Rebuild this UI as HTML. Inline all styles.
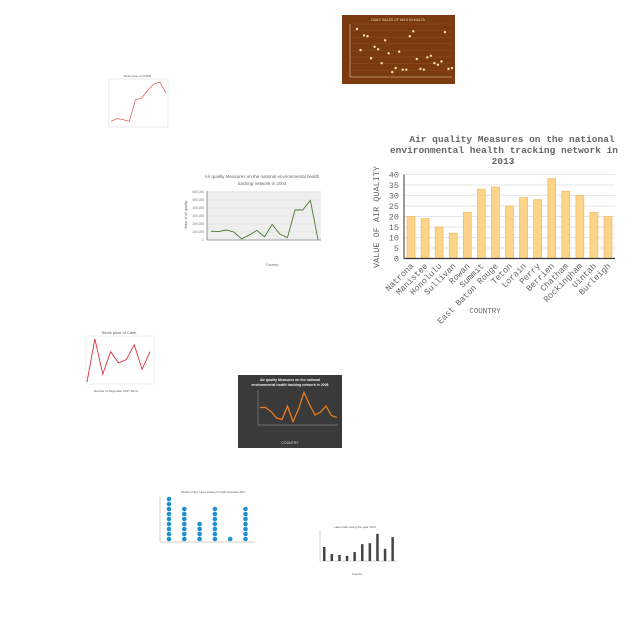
<!DOCTYPE html>
<html><head><meta charset="utf-8"><style>
html,body{margin:0;padding:0;background:#fff;}
svg{display:block;font-family:"Liberation Sans",sans-serif;}
.mono{font-family:"Liberation Mono",monospace;fill:#666;}
</style></head><body>
<svg id="s" width="640" height="640" viewBox="0 0 640 640">
<rect width="640" height="640" fill="#fff"/>
<g id="main">
<text class="mono" x="512" y="142" font-size="9.5" font-weight="bold" text-anchor="middle">Air quality Measures on the national</text>
<text class="mono" x="504" y="153" font-size="9.5" font-weight="bold" text-anchor="middle">environmental health tracking network in</text>
<text class="mono" x="503" y="164" font-size="9.5" font-weight="bold" text-anchor="middle">2013</text>
<text class="mono" transform="translate(379,217) rotate(-90)" font-size="8.5" text-anchor="middle">VALUE OF  AIR QUALITY</text>
<text class="mono" x="485" y="313" font-size="7.5" text-anchor="middle">COUNTRY</text>
</g>
<g id="others"></g>
</svg>
<script>
const NS="http://www.w3.org/2000/svg";
function mk(p,t,a){const e=document.createElementNS(NS,t);for(const k in a)e.setAttribute(k,a[k]);p.appendChild(e);return e;}
// main chart data
const mainCategories=["Natrona","Manistee","Honolulu","Sullivan","Rowan","Summit","East Baton Rouge","Teton","Lorain","Perry","Berrien","Chatham","Rockingham","Uintah","Burleigh"];
const mainValues=[20,19,15,12,22,33,34,25,29,28,38,32,30,22,20];
const mainTicks=[0,5,10,15,20,25,30,35,40];
// scatter
const scatterValues=[11.8,6.6,10.2,10,4.6,7.4,6.8,3.4,9,5.8,1.2,2.2,6.2,1.8,1.8,10,11.2,4.4,2,1.8,4.8,5.2,3.4,3,3.8,11,2,2.2];
// stock top-left
const stockAValues=[1,2,1.6,1,9,9.6,12.5,14.8,15.6,11.4];
// line 2004
const line2004Values=[110000,105000,125000,100000,15000,60000,120000,40000,195000,75000,30000,375000,375000,495000,5000];
const line2004Ticks=[0,100000,200000,300000,400000,500000,600000];
// Cdek stock
const cdekValues=[0,8.8,1.6,6.2,3.9,4.6,7.6,2.6,6.2];
// dark chart
const darkValues=[5.5,5.5,4.2,2,1.5,6,0.8,5,10.5,6.5,3,4,6,2.8,2.2];
// dot chart
const dotCounts=[9,7,4,7,1,7];
// small bar
const smallBarValues=[1500,750,650,550,950,1800,1900,2900,1300,2550];

const s=document.getElementById('main');
// main axes
const X0=404,X1=615,Y0=258.5,Y1=174.5;
const yMain=v=>Y0-(v/40)*(Y0-Y1);
const bw=(X1-X0)/mainCategories.length;
mainTicks.forEach(t=>{
 const l=mk(s,'line',{x1:X0,x2:X1,y1:yMain(t),y2:yMain(t),stroke:'#ddd','stroke-width':0.8});
 
 
 const tx=mk(s,'text',{x:X0-5,y:yMain(t)+3,'font-size':8.5,'text-anchor':'end',class:'mono'});tx.textContent=t;
 
 
});
mainValues.forEach((v,i)=>{
 const x=X0+i*bw+bw*0.22;
 const r=mk(s,'rect',{x:x,y:yMain(v),width:bw*0.56,height:Y0-yMain(v),fill:'#fdd58a',stroke:'#f2bd63','stroke-width':0.8});
 
 
 const cx=X0+i*bw+bw/2;
 const tx=mk(s,'text',{transform:`translate(${cx+3},${Y0+8}) rotate(-45)`,'font-size':8.5,'text-anchor':'end',class:'mono'});tx.textContent=mainCategories[i];
 
 
});
mk(s,'line',{x1:X0,x2:X0,y1:Y1,y2:Y0,stroke:'#333','stroke-width':1});
mk(s,'line',{x1:X0,x2:X1,y1:Y0,y2:Y0,stroke:'#333','stroke-width':1.3});

const o=document.getElementById('others');
function grp(name){const g=mk(o,'g',{});return g;}
function lineChart(g,vals,x0,x1,y0,y1,vmin,vmax,color,w){
 const xs=i=>x0+i*(x1-x0)/(vals.length-1);
 const ys=v=>y0-(v-vmin)/(vmax-vmin)*(y0-y1);
 const p=mk(g,'polyline',{points:vals.map((v,i)=>xs(i)+','+ys(v)).join(' '),fill:'none',stroke:color,'stroke-width':w});
 
 
}
// scatter
{const g=grp('milk-sales-scatter');
 mk(g,'rect',{x:342,y:15,width:113,height:69,fill:'#7b3a10'});
 const t=mk(g,'text',{x:398,y:21,'font-size':3.5,fill:'#f3d9b0','text-anchor':'middle'});t.textContent='DAILY SALES OF MILK IN MALTA';
 for(let i=0;i<=8;i++){mk(g,'line',{x1:350,x2:452,y1:24+i*6.6,y2:24+i*6.6,stroke:'#94572a','stroke-width':0.4});}
 mk(g,'line',{x1:350,x2:350,y1:24,y2:77,stroke:'#e8cfa8','stroke-width':0.6});
 mk(g,'line',{x1:350,x2:452,y1:77,y2:77,stroke:'#e8cfa8','stroke-width':0.6});
 const xs=i=>357+i*(452-357)/(scatterValues.length-1), ys=v=>77-v/13*53;
 scatterValues.forEach((v,i)=>{const c=mk(g,'circle',{cx:xs(i),cy:ys(v),r:1.2,fill:'#fde9a8'});
  
  });
}
// stock A
{const g=grp('stock-price-chart-small');
 const t=mk(g,'text',{x:137,y:77,'font-size':3,fill:'#555','text-anchor':'middle'});t.textContent='Stock price of CNAB';
 mk(g,'rect',{x:109,y:79,width:59,height:48,fill:'none',stroke:'#ccc','stroke-width':0.4});
 lineChart(g,stockAValues,111,166,124,81,0,16,'#e05050',0.7);}
// line 2004
{const g=grp('air-quality-2004-line-chart');
 let t=mk(g,'text',{x:262,y:178,'font-size':4.5,fill:'#666','text-anchor':'middle'});t.textContent='Air quality Measures on the national environmental health';
 t=mk(g,'text',{x:262,y:185,'font-size':4.5,fill:'#666','text-anchor':'middle'});t.textContent='tracking network in 2004';
 mk(g,'rect',{x:207,y:191,width:114,height:49,fill:'#eee'});
 for(let i=0;i<7;i++){mk(g,'line',{x1:207,x2:321,y1:240-i*8,y2:240-i*8,stroke:'#ddd','stroke-width':0.4});}
 mk(g,'line',{x1:207,x2:321,y1:240,y2:240,stroke:'#555','stroke-width':0.6});
 mk(g,'line',{x1:207,x2:207,y1:191,y2:240,stroke:'#555','stroke-width':0.6});
 line2004Ticks.forEach(v=>{const tt=mk(g,'text',{x:204,y:241-v/600000*48,'font-size':3.2,fill:'#777','text-anchor':'end'});tt.textContent=v.toLocaleString('en-US');});
 t=mk(g,'text',{transform:'translate(187,215) rotate(-90)','font-size':3.5,fill:'#666','text-anchor':'middle'});t.textContent='Value of air quality';
 t=mk(g,'text',{x:272,y:266,'font-size':3.5,fill:'#666','text-anchor':'middle'});t.textContent='Country';
 lineChart(g,line2004Values,211,318,240,192,0,600000,'#4a7a2a',0.9);}
// cdek
{const g=grp('cdek-stock-chart');
 const t=mk(g,'text',{x:119,y:334,'font-size':4,fill:'#555','text-anchor':'middle'});t.textContent='Stock price of Cdek';
 mk(g,'rect',{x:86,y:336,width:68,height:48,fill:'none',stroke:'#ddd','stroke-width':0.4});
 const t2=mk(g,'text',{x:116,y:392,'font-size':3,fill:'#555','text-anchor':'middle'});t2.textContent='Number of Days after 2017-09-11';
 lineChart(g,cdekValues,87,150,382,338,0,9,'#d83040',0.9);}
// dark
{const g=grp('air-quality-2008-dark-chart');
 mk(g,'rect',{x:238,y:375,width:104,height:73,fill:'#3a3a3a'});
 let t=mk(g,'text',{x:290,y:381,'font-size':3.5,fill:'#eee','text-anchor':'middle','font-weight':'bold'});t.textContent='Air quality Measures on the national';
 t=mk(g,'text',{x:290,y:386,'font-size':3.5,fill:'#eee','text-anchor':'middle','font-weight':'bold'});t.textContent='environmental health tracking network in 2008';
 mk(g,'line',{x1:258,x2:258,y1:390,y2:425,stroke:'#bbb','stroke-width':0.4});
 mk(g,'line',{x1:258,x2:338,y1:425,y2:425,stroke:'#bbb','stroke-width':0.4});
 t=mk(g,'text',{x:290,y:444,'font-size':3.5,fill:'#ddd','text-anchor':'middle'});t.textContent='COUNTRY';
 lineChart(g,darkValues,260,337,424,391,0,11,'#f08020',1.2);}
// dots
{const g=grp('dot-plot-chart');
 const t=mk(g,'text',{x:213,y:493,'font-size':2.5,fill:'#555','text-anchor':'middle'});t.textContent='Number of New Cases tracking 9 months November 2017';
 mk(g,'line',{x1:160,x2:255,y1:542,y2:542,stroke:'#888','stroke-width':0.4});
 mk(g,'line',{x1:160,x2:160,y1:497,y2:542,stroke:'#888','stroke-width':0.4});
 dotCounts.forEach((n,i)=>{for(let k=0;k<n;k++){const c=mk(g,'circle',{cx:169+i*15.3,cy:539-k*5,r:2.3,fill:'#1e90d0'});
  
  }});}
// small bar
{const g=grp('lake-index-bar-chart');
 const t=mk(g,'text',{x:355,y:528,'font-size':3,fill:'#555','text-anchor':'middle'});t.textContent='Lake index along the year 1970';
 mk(g,'line',{x1:320,x2:397,y1:561,y2:561,stroke:'#999','stroke-width':0.4});
 mk(g,'line',{x1:320,x2:320,y1:530,y2:561,stroke:'#999','stroke-width':0.4});
 smallBarValues.forEach((v,i)=>{const h=v/3200*30;const r=mk(g,'rect',{x:323+i*7.6,y:561-h,width:2.5,height:h,fill:'#444'});
  
  });
 const t2=mk(g,'text',{x:357,y:575,'font-size':3,fill:'#555','text-anchor':'middle'});t2.textContent='Country';}
</script>
</body></html>
